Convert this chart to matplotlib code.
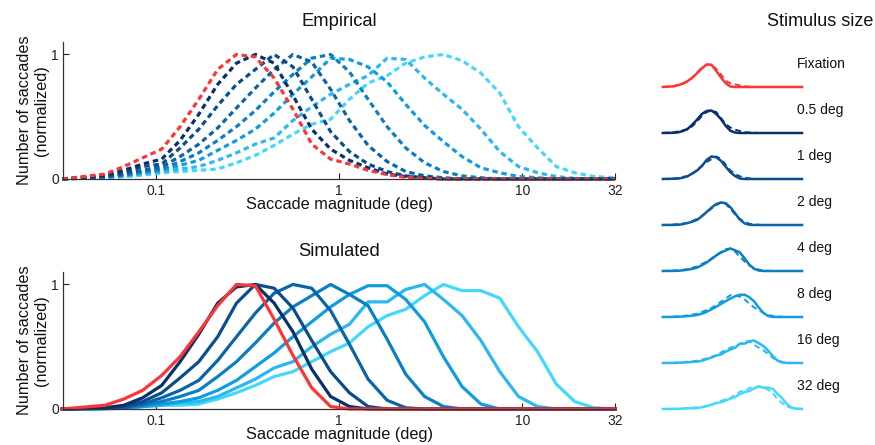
import matplotlib.pyplot as plt
import numpy as np

plt.rcParams['font.family'] = ['Liberation Sans', 'DejaVu Sans']

# saccade magnitude bins (deg), shared by all curves
magnitude = [0.031, 0.053, 0.067, 0.085, 0.108, 0.136, 0.172, 0.218, 0.276, 0.350,
             0.443, 0.561, 0.710, 0.900, 1.14, 1.44, 1.83, 2.31, 2.93, 3.71,
             4.69, 5.94, 7.53, 9.53, 12.1, 15.3, 19.3, 24.5, 32.0]

sizes = ['Fixation', '0.5 deg', '1 deg', '2 deg', '4 deg', '8 deg', '16 deg', '32 deg']
colors = ['#ff3535', '#08306b', '#0b4d8c', '#0a64a8', '#0a7fc4', '#0f9de0', '#2bb8f0', '#42d9fc']

# empirical distributions (normalized)
emp_fix = [0, 0.04, 0.10, 0.17, 0.24, 0.42, 0.64, 0.88, 1.0, 0.98, 0.81, 0.56, 0.28, 0.16, 0.12,
           0.07, 0.035, 0.013, 0.005, 0, 0, 0, 0, 0, 0, 0, 0, 0, 0]
emp_05 = [0, 0.03, 0.07, 0.12, 0.16, 0.31, 0.52, 0.76, 0.93, 1.0, 0.93, 0.67, 0.40, 0.24, 0.15,
          0.09, 0.04, 0.02, 0.01, 0, 0, 0, 0, 0, 0, 0, 0, 0, 0]
emp_1 = [0, 0.02, 0.05, 0.10, 0.12, 0.25, 0.40, 0.59, 0.76, 0.88, 1.0, 0.90, 0.64, 0.38, 0.22,
         0.12, 0.06, 0.025, 0.01, 0, 0, 0, 0, 0, 0, 0, 0, 0, 0]
emp_2 = [0, 0.02, 0.04, 0.07, 0.10, 0.18, 0.28, 0.41, 0.57, 0.73, 0.88, 1.0, 0.94, 0.72, 0.47,
         0.27, 0.14, 0.06, 0.025, 0.01, 0, 0, 0, 0, 0, 0, 0, 0, 0]
emp_4 = [0, 0.02, 0.03, 0.06, 0.08, 0.14, 0.21, 0.31, 0.42, 0.55, 0.70, 0.84, 0.97, 1.0, 0.86,
         0.64, 0.42, 0.25, 0.13, 0.06, 0.025, 0.01, 0, 0, 0, 0, 0, 0, 0]
emp_8 = [0, 0.015, 0.03, 0.05, 0.07, 0.11, 0.15, 0.23, 0.31, 0.40, 0.53, 0.68, 0.82, 0.97, 0.96,
         0.90, 0.78, 0.60, 0.43, 0.30, 0.18, 0.09, 0.05, 0.02, 0.01, 0, 0, 0, 0]
emp_16 = [0, 0.01, 0.02, 0.04, 0.06, 0.08, 0.10, 0.15, 0.21, 0.28, 0.33, 0.47, 0.58, 0.68, 0.76,
          0.83, 0.97, 0.96, 0.81, 0.68, 0.56, 0.40, 0.22, 0.10, 0.05, 0.02, 0.005, 0, 0]
emp_32 = [0, 0.01, 0.02, 0.03, 0.05, 0.06, 0.07, 0.08, 0.13, 0.19, 0.27, 0.36, 0.44, 0.48, 0.64,
          0.77, 0.83, 0.93, 0.98, 1.0, 0.95, 0.85, 0.69, 0.42, 0.25, 0.10, 0.05, 0.02, 0.01]

# simulated distributions (normalized)
sim_fix = [0, 0.03, 0.08, 0.15, 0.27, 0.42, 0.62, 0.83, 1.0, 0.99, 0.72, 0.43, 0.17, 0.02, 0,
           0, 0, 0, 0, 0, 0, 0, 0, 0, 0, 0, 0, 0, 0]
sim_05 = [0, 0.01, 0.03, 0.09, 0.19, 0.38, 0.60, 0.85, 0.98, 1.0, 0.85, 0.62, 0.32, 0.10, 0.02,
          0, 0, 0, 0, 0, 0, 0, 0, 0, 0, 0, 0, 0, 0]
sim_1 = [0, 0.01, 0.02, 0.06, 0.13, 0.25, 0.38, 0.58, 0.85, 1.0, 0.97, 0.81, 0.55, 0.30, 0.13,
         0.02, 0, 0, 0, 0, 0, 0, 0, 0, 0, 0, 0, 0, 0]
sim_2 = [0, 0.005, 0.01, 0.04, 0.09, 0.15, 0.23, 0.39, 0.58, 0.77, 0.93, 1.0, 0.97, 0.79, 0.52,
         0.24, 0.07, 0.01, 0, 0, 0, 0, 0, 0, 0, 0, 0, 0, 0]
sim_4 = [0, 0.005, 0.01, 0.03, 0.06, 0.10, 0.15, 0.26, 0.38, 0.53, 0.69, 0.82, 0.91, 1.0, 0.92,
         0.83, 0.56, 0.28, 0.10, 0.02, 0, 0, 0, 0, 0, 0, 0, 0, 0]
sim_8 = [0, 0.003, 0.01, 0.02, 0.04, 0.06, 0.09, 0.15, 0.23, 0.34, 0.45, 0.58, 0.70, 0.82, 0.92,
         0.99, 0.99, 0.88, 0.70, 0.42, 0.18, 0.04, 0, 0, 0, 0, 0, 0, 0]
sim_16 = [0, 0.003, 0.01, 0.02, 0.03, 0.05, 0.06, 0.10, 0.17, 0.24, 0.33, 0.38, 0.50, 0.60, 0.68,
          0.86, 0.86, 0.96, 1.0, 0.88, 0.75, 0.55, 0.30, 0.10, 0.02, 0, 0, 0, 0]
sim_32 = [0, 0.002, 0.005, 0.02, 0.03, 0.03, 0.04, 0.08, 0.13, 0.19, 0.26, 0.30, 0.38, 0.46, 0.53,
          0.66, 0.75, 0.80, 0.91, 1.0, 0.95, 0.95, 0.89, 0.66, 0.46, 0.20, 0.06, 0.01, 0]

empirical = [emp_fix, emp_05, emp_1, emp_2, emp_4, emp_8, emp_16, emp_32]
simulated = [sim_fix, sim_05, sim_1, sim_2, sim_4, sim_8, sim_16, sim_32]

W, H = 875, 445
fig = plt.figure(figsize=(W / 100, H / 100), dpi=100)


def px_box(left, top, right, bottom):
    return [left / W, 1 - bottom / H, (right - left) / W, (bottom - top) / H]


def style_main(ax):
    ax.set_xscale('log')
    ax.set_xlim(1 / 32, 32)
    ax.set_ylim(0, 1.1)
    ax.set_xticks([0.1, 1, 10, 32])
    ax.set_xticklabels(['0.1', '1', '10', '32'])
    ax.minorticks_off()
    ax.set_yticks([0, 1])
    ax.set_yticklabels(['0', '1'])
    ax.tick_params(axis='x', direction='in', length=4, width=0.8, labelsize=10, pad=3.6, colors='#222222')
    ax.tick_params(axis='y', direction='in', length=4, width=0.8, labelsize=10, pad=3, colors='#222222')
    for s in ['top', 'right']:
        ax.spines[s].set_visible(False)
    for s in ['left', 'bottom']:
        ax.spines[s].set_color('#333333')
        ax.spines[s].set_linewidth(0.9)
    ax.set_xlabel('Saccade magnitude (deg)', fontsize=11.7, color='#111111')
    ax.set_ylabel('Number of saccades\n(normalized)', fontsize=11.7, color='#111111', linespacing=1.15)
    ax.xaxis.set_label_coords(0.5, -0.135)
    ax.yaxis.set_label_coords(-0.026, 0.5)


ax_emp = fig.add_axes(px_box(63, 42, 615, 179))
ax_sim = fig.add_axes(px_box(63, 272, 615, 409))

for i in range(len(sizes) - 1, -1, -1):
    ax_emp.plot(magnitude, empirical[i], color=colors[i], lw=2.3, dashes=(1.7, 1.2), clip_on=False)
    ax_sim.plot(magnitude, simulated[i], color=colors[i], lw=2.3, clip_on=False)

style_main(ax_emp)
style_main(ax_sim)

fig.text(339 / W, 1 - 21 / H, 'Empirical', ha='center', va='center', fontsize=13.2, color='#111111')
fig.text(339 / W, 1 - 252 / H, 'Simulated', ha='center', va='center', fontsize=13.2, color='#111111')
fig.text(820 / W, 1 - 22 / H, 'Stimulus size', ha='center', va='center', fontsize=13, color='#111111')

# small panels: simulated (solid) vs empirical (dashed)
baselines = [87, 133, 179, 225, 271, 317, 363, 409]
for i, name in enumerate(sizes):
    b = baselines[i]
    ax = fig.add_axes(px_box(663, b - 24.75, 802, b))
    ax.plot(magnitude, empirical[i], color=colors[i], lw=1.4, dashes=(3, 2), clip_on=False)
    ax.plot(magnitude, simulated[i], color=colors[i], lw=1.8, clip_on=False)
    ax.set_xscale('log')
    ax.set_xlim(1 / 32, 32)
    ax.set_ylim(0, 1.1)
    ax.axis('off')
    ax.text(0.964, 0.92, name, transform=ax.transAxes, ha='left', va='center',
            fontsize=10, color='#111111', clip_on=False)

fig.savefig('out.png', dpi=100)
